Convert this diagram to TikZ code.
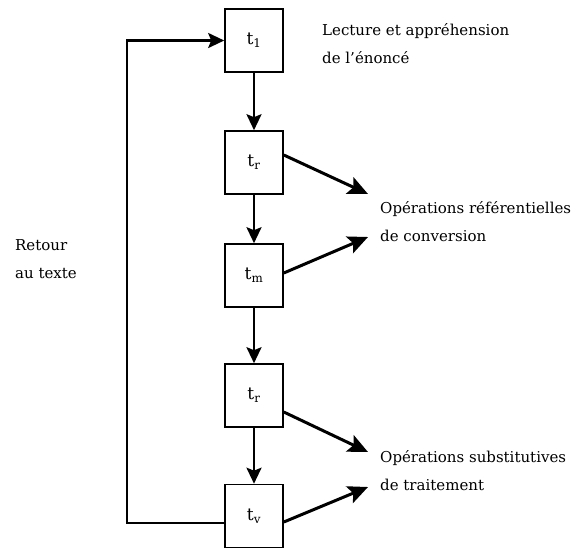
\documentclass[tikz,border=0pt]{standalone}
\usepackage{fontspec}
\setmainfont{DejaVu Serif}
\usetikzlibrary{arrows.meta,calc}
\begin{document}
\begin{tikzpicture}[x=1pt,y=-1pt,
  stage/.style={draw,line width=1.6pt,minimum width=58pt,minimum height=63pt,inner sep=0pt,font=\fontsize{17}{19}\selectfont},
  flow/.style={line width=2.5pt,-{Stealth[length=16pt,width=15pt,inset=3pt]}},
  op/.style={line width=3pt,-{Stealth[length=20pt,width=18pt,inset=4pt]}},
  lbl/.style={anchor=west,align=left,inner sep=0pt,font=\fontsize{15}{28}\selectfont}]
\useasboundingbox (0,0) rectangle (577,550);
\node[stage] (b1) at (254,40.5) {t\textsubscript{1}};
\node[stage] (b2) at (254,162.5) {t\textsubscript{r}};
\node[stage] (b3) at (254,275.5) {t\textsubscript{m}};
\node[stage] (b4) at (254,395.5) {t\textsubscript{r}};
\node[stage] (b5) at (254,516) {t\textsubscript{v}};
\draw[flow] (b1) -- (b2);
\draw[flow] (b2) -- (b3);
\draw[flow] (b3) -- (b4);
\draw[flow] (b4) -- (b5);
\node[lbl] (lec) at (322,44) {Lecture et appréhension\\de l’énoncé};
\node[lbl] (ref) at (380,222) {Opérations référentielles\\de conversion};
\node[lbl] (sub) at (380,471) {Opérations substitutives\\de traitement};
\node[lbl] (ret) at (15,259) {Retour\\au texte};
\coordinate (e2) at (368,194);
\coordinate (e3) at (368,237);
\coordinate (e4) at (368,452);
\coordinate (e5) at (368,487);
\draw[op] ([yshift=7.5pt]b2.east) -- (e2);
\draw[op] ([yshift=2.5pt]b3.east) -- (e3);
\draw[op] ([yshift=-16.5pt]b4.east) -- (e4);
\draw[op] ([yshift=-6pt]b5.east) -- (e5);
\coordinate (lb) at (127,523);
\coordinate (lt) at (127,40.5);
\draw[flow] (b5.west|-lb) -- (lb) -- (lt) -- (b1.west);
\end{tikzpicture}
\end{document}
